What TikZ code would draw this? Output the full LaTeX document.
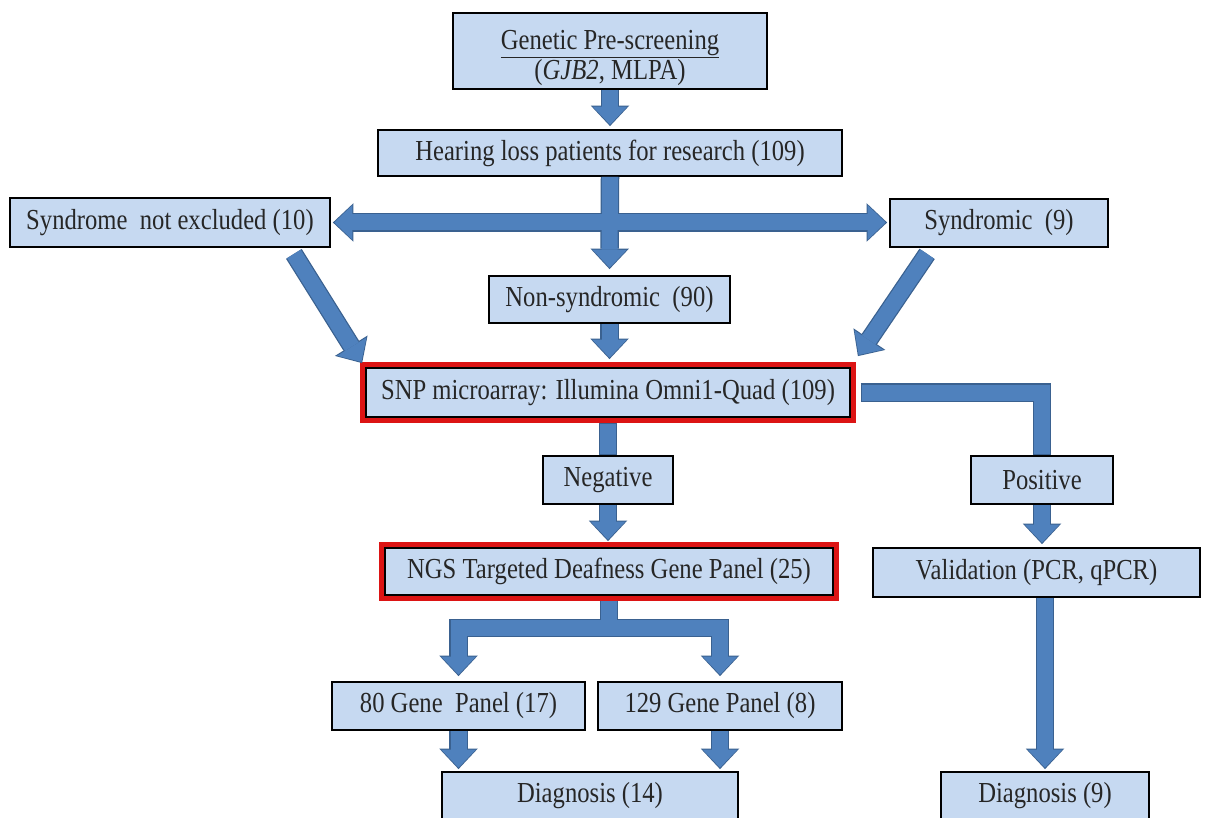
\documentclass[tikz,border=0pt]{standalone}
\usepackage{fontspec}
\setmainfont{Liberation Serif}[FakeStretch=0.85]
\usetikzlibrary{arrows.meta,calc}
\definecolor{boxfill}{HTML}{C6D9F1}
\definecolor{arrfill}{HTML}{4F81BD}
\definecolor{arredge}{HTML}{3A6190}
\definecolor{redb}{HTML}{DC1414}
\newcommand\myconnectors{%
  \draw[ar=3pt] (gen.south) -- (hl.north);
  \draw[ar=6pt] (hl.south) -- (ns.north);
  \draw[ard=2pt] (sne.east) -- (sne.east -| syn.west);
  \draw[ar] ($(sne.south east)+(-37,6)$) coordinate (dl) -- ($(snp.north west)+(-3,-4)$);
  \draw[ar] ($(syn.south west)+(38,6)$) coordinate (dr) -- ($(snp.north east)+(7,-11)$);
  \draw[ar=8pt] (ns.south) -- (ns.south |- snp.north);
  \draw[arn={5pt}{0pt}] (snp.south) -- (snp.south |- neg.north);
  \draw[ar=6pt] (neg.south) -- (neg.south |- ngs.north);
  \draw[arn={10pt}{0pt}] (snp.east) -| (pos.north);
  \draw[ar=3pt] (pos.south) -- (pos.south |- val.north);
  \draw[ar=2pt] (d9.north |- val.south) -- (d9.north);
  \draw[ar=5pt, shorten <=5pt] (ngs.south) -- ++(0,32) -| (g80.north);
  \draw[ar=5pt, shorten <=5pt] (ngs.south) -- ++(0,32) -| (g129.north);
  \draw[ar=2pt] (g80.south) -- (g80.south |- d14.north);
  \draw[ar=2pt] (g129.south) -- (g129.south |- d14.north);
}
\begin{document}
\begin{tikzpicture}[x=1pt,y=-1pt,
  box/.style={draw=black, line width=1.8pt, fill=boxfill, inner sep=0pt,
    font=\fontsize{29}{30}\selectfont, text=black!85, align=center},
  redbox/.style={box, preaction={draw=redb, line width=12pt}},
]
\useasboundingbox (0,0) rectangle (1206,818);
\fill[white] (0,0) rectangle (1206,818);
\clip (0,0) rectangle (1206,818);

\node[box, minimum width=314pt, minimum height=76pt] (gen) at (610,51)
  {\raisebox{-8pt}[\height][\depth]{\begin{tabular}{@{}c@{}}\underline{Genetic Pre-screening}\\(\textit{GJB2}, MLPA)\end{tabular}}};
\node[box, minimum width=464pt, minimum height=46pt] (hl) at (610,153)
  {Hearing loss patients for research (109)};
\node[box, minimum width=320pt, minimum height=49pt] (sne) at (170,222.5)
  {Syndrome~ not excluded (10)};
\node[box, minimum width=218pt, minimum height=48pt] (syn) at (999,223)
  {Syndromic~ (9)};
\node[box, minimum width=241pt, minimum height=47pt] (ns) at (609.5,299.5)
  {Non-syndromic~ (90)};
\node[redbox, minimum width=484pt, minimum height=49pt] (snp) at (608,392.5)
  {SNP microarray: Illumina Omni1-Quad (109)};
\node[box, minimum width=130pt, minimum height=48pt] (neg) at (608,480)
  {Negative};
\node[redbox, minimum width=448pt, minimum height=47pt] (ngs) at (609,571.5)
  {NGS Targeted Deafness Gene Panel (25)};
\node[box, minimum width=142pt, minimum height=48pt] (pos) at (1042,480)
  {Positive};
\node[box, minimum width=327pt, minimum height=49pt] (val) at (1036.5,572.5)
  {Validation (PCR, qPCR)};
\node[box, minimum width=253pt, minimum height=48pt] (g80) at (458.5,706)
  {80 Gene~ Panel (17)};
\node[box, minimum width=244pt, minimum height=48pt] (g129) at (720,706)
  {129 Gene Panel (8)};
\node[box, minimum width=296pt, minimum height=48pt] (d14) at (590,796)
  {Diagnosis (14)};
\node[box, minimum width=208pt, minimum height=48pt] (d9) at (1045,796)
  {Diagnosis (9)};

\begin{scope}[
  ar/.style={draw=arredge, line width=18.5pt,
    -{Triangle[length=20.5pt,width=38.5pt,line width=0pt]}, shorten >=#1},
  ar/.default=0pt,
  ard/.style={draw=arredge, line width=18.5pt,
    {Triangle[length=20.5pt,width=38.5pt,line width=0pt]}-{Triangle[length=20.5pt,width=38.5pt,line width=0pt]},
    shorten >=#1, shorten <=#1},
  arn/.style 2 args={draw=arredge, line width=18.5pt, shorten <=#1, shorten >=#2},
]
\myconnectors
\end{scope}
\begin{scope}[
  ar/.style={draw=arrfill, line width=16pt,
    -{Triangle[length=18pt,width=34.5pt,line width=0pt]}, shorten >={#1+1.4pt}},
  ar/.default=0pt,
  ard/.style={draw=arrfill, line width=16pt,
    {Triangle[length=18pt,width=34.5pt,line width=0pt]}-{Triangle[length=18pt,width=34.5pt,line width=0pt]},
    shorten >={#1+1.4pt}, shorten <={#1+1.4pt}},
  arn/.style 2 args={draw=arrfill, line width=16pt, shorten <={#1+1.2pt}, shorten >={#2+1.2pt}},
]
\myconnectors
\end{scope}
\end{tikzpicture}
\end{document}
